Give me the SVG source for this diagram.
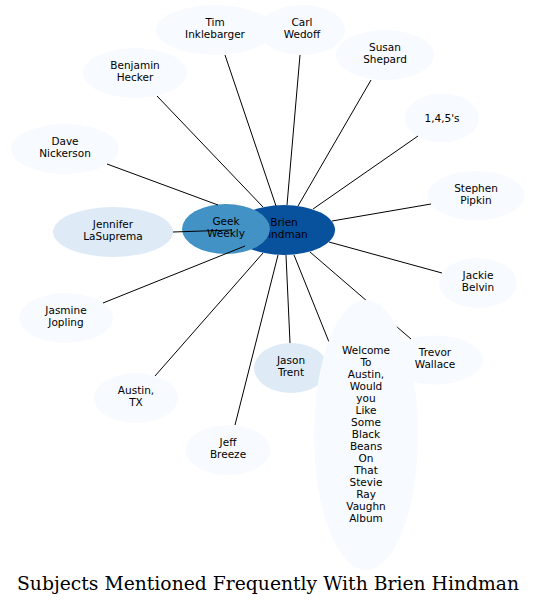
<svg xmlns="http://www.w3.org/2000/svg" width="536" height="605" viewBox="0 0 536 605">
<style>
.n text{font-family:"DejaVu Sans",sans-serif;font-size:10.5px;fill:#000;text-anchor:middle}
.c0{fill:#f7fbff}
.c1{fill:#deebf7}
.c2{fill:#4292c6}
.c3{fill:#08519c}
#edges line{stroke:#000;stroke-width:1}
.title{font-family:"DejaVu Serif",serif;font-size:18.7px;fill:#000;text-anchor:middle}
</style>
<rect width="536" height="605" fill="#fff"/>
<g class="n" id="tim"><ellipse class="c0" cx="215" cy="30" rx="59" ry="25"/><text x="215" y="26">Tim</text><text x="215" y="38">Inklebarger</text></g>
<g class="n" id="carl"><ellipse class="c0" cx="302" cy="30" rx="43" ry="25"/><text x="302" y="26">Carl</text><text x="302" y="38">Wedoff</text></g>
<g class="n" id="susan"><ellipse class="c0" cx="385" cy="55" rx="49" ry="25"/><text x="385" y="51">Susan</text><text x="385" y="63">Shepard</text></g>
<g class="n" id="benjamin"><ellipse class="c0" cx="135" cy="73" rx="52" ry="25"/><text x="135" y="69">Benjamin</text><text x="135" y="81">Hecker</text></g>
<g class="n" id="n145"><ellipse class="c0" cx="442" cy="118" rx="37" ry="24.5"/><text x="442" y="121.5">1,4,5's</text></g>
<g class="n" id="dave"><ellipse class="c0" cx="65" cy="149" rx="54" ry="25"/><text x="65" y="145">Dave</text><text x="65" y="157">Nickerson</text></g>
<g class="n" id="stephen"><ellipse class="c0" cx="476" cy="195.5" rx="48.5" ry="24.5"/><text x="476" y="191.5">Stephen</text><text x="476" y="203.5">Pipkin</text></g>
<g class="n" id="jennifer"><ellipse class="c1" cx="113" cy="232" rx="60" ry="25"/><text x="113" y="228">Jennifer</text><text x="113" y="240">LaSuprema</text></g>
<g class="n" id="brien"><ellipse class="c3" cx="284" cy="230" rx="51" ry="25"/><text x="284" y="226">Brien</text><text x="284" y="238">Hindman</text></g>
<g class="n" id="geek"><ellipse class="c2" cx="226" cy="229" rx="44" ry="25"/><text x="226" y="225">Geek</text><text x="226" y="237">Weekly</text></g>
<g class="n" id="jackie"><ellipse class="c0" cx="478" cy="283" rx="39" ry="25"/><text x="478" y="279">Jackie</text><text x="478" y="291">Belvin</text></g>
<g class="n" id="jasmine"><ellipse class="c0" cx="66" cy="318" rx="47" ry="25"/><text x="66" y="314">Jasmine</text><text x="66" y="326">Jopling</text></g>
<g class="n" id="trevor"><ellipse class="c0" cx="435" cy="360" rx="48" ry="24.5"/><text x="435" y="356">Trevor</text><text x="435" y="368">Wallace</text></g>
<g class="n" id="austin"><ellipse class="c0" cx="136" cy="398" rx="42" ry="25"/><text x="136" y="394">Austin,</text><text x="136" y="406">TX</text></g>
<g class="n" id="jeff"><ellipse class="c0" cx="228" cy="450" rx="42.5" ry="25"/><text x="228" y="446">Jeff</text><text x="228" y="458">Breeze</text></g>
<g class="n" id="jason"><ellipse class="c1" cx="291" cy="368" rx="37" ry="25"/><text x="291" y="364">Jason</text><text x="291" y="376">Trent</text></g>
<g id="edges">
<line x1="225" y1="55" x2="276" y2="206"/>
<line x1="300" y1="55" x2="287" y2="205"/>
<line x1="371" y1="80" x2="298" y2="206"/>
<line x1="157" y1="96" x2="263" y2="207"/>
<line x1="418" y1="136" x2="313" y2="209"/>
<line x1="107" y1="164" x2="218" y2="205"/>
<line x1="431" y1="204" x2="332" y2="221"/>
<line x1="173" y1="232" x2="232" y2="230"/>
<line x1="442" y1="273" x2="329" y2="242"/>
<line x1="103" y1="303" x2="245" y2="246"/>
<line x1="411" y1="339" x2="310" y2="252"/>
<line x1="155" y1="376" x2="263" y2="253"/>
<line x1="235" y1="425" x2="278" y2="255"/>
<line x1="290" y1="343" x2="286" y2="255"/>
<line x1="329" y1="342" x2="294" y2="255"/>
</g>
<g class="n" id="welcome"><ellipse class="c0" cx="366" cy="435" rx="52" ry="135"/>
<text x="366" y="354">Welcome</text><text x="366" y="366">To</text><text x="366" y="378">Austin,</text><text x="366" y="390">Would</text><text x="366" y="402">you</text><text x="366" y="414">Like</text><text x="366" y="426">Some</text><text x="366" y="438">Black</text><text x="366" y="450">Beans</text><text x="366" y="462">On</text><text x="366" y="474">That</text><text x="366" y="486">Stevie</text><text x="366" y="498">Ray</text><text x="366" y="510">Vaughn</text><text x="366" y="522">Album</text></g>
<text class="title" x="268" y="590" textLength="502" lengthAdjust="spacingAndGlyphs">Subjects Mentioned Frequently With Brien Hindman</text>
</svg>
